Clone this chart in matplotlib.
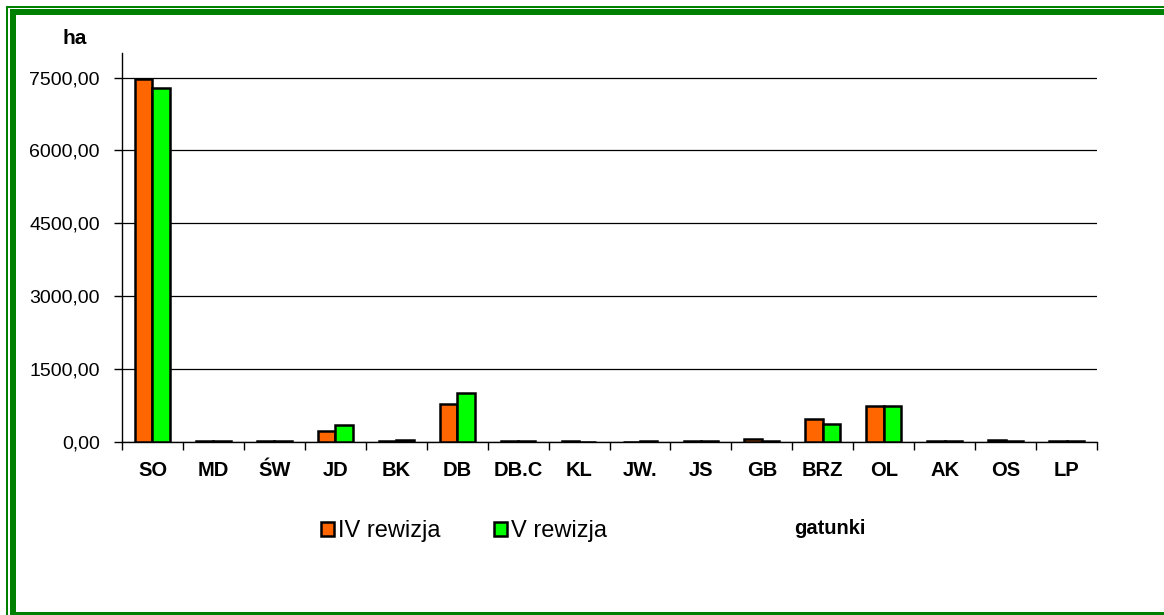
import matplotlib.pyplot as plt
import numpy as np
from matplotlib.patches import Rectangle

plt.rcParams['font.family'] = ['Liberation Sans', 'DejaVu Sans']

gatunki = ['SO', 'MD', 'ŚW', 'JD', 'BK', 'DB', 'DB.C', 'KL',
           'JW.', 'JS', 'GB', 'BRZ', 'OL', 'AK', 'OS', 'LP']
rewizja_iv = [7480, 15, 15, 218, 5, 770, 10, 12, 0, 10, 50, 474, 740, 10, 30, 10]
rewizja_v = [7290, 20, 15, 336, 25, 1010, 10, 0, 10, 10, 10, 363, 733, 10, 15, 10]
y_ticks = [0, 1500, 3000, 4500, 6000, 7500]

ORANGE = '#FF6600'
GREEN = '#00FF00'
BORDER = '#008000'

fig = plt.figure(figsize=(11.64, 6.15), dpi=100)
W, H = 1164, 615

# green frame (thin + thick line, bottom line)
def px_rect(x0, y0, x1, y1):
    fig.patches.append(Rectangle((x0 / W, 1 - y1 / H), (x1 - x0) / W, (y1 - y0) / H,
                                 transform=fig.transFigure, color=BORDER, lw=0))

px_rect(6, 6, 8, 615)       # left thin
px_rect(6, 6, 1164, 8)      # top thin
px_rect(10, 9, 16, 613)     # left thick
px_rect(10, 9, 1164, 15)    # top thick
px_rect(10, 612, 1164, 615)  # bottom

ax = fig.add_axes([122 / W, 1 - 441.7 / H, (1097 - 122) / W, (441.7 - 53.4) / H])

x = np.arange(len(gatunki))
w = 0.285
ax.bar(x - w / 2, rewizja_iv, w, color=ORANGE, edgecolor='black', linewidth=1.8,
       label='IV rewizja', zorder=3)
ax.bar(x + w / 2, rewizja_v, w, color=GREEN, edgecolor='black', linewidth=1.8,
       label='V rewizja', zorder=3)

ax.set_xlim(-0.5, len(gatunki) - 0.5)
ax.set_ylim(0, 8000)
ax.set_yticks(y_ticks)
ax.set_yticklabels([f'{v:.2f}'.replace('.', ',') for v in y_ticks])
ax.yaxis.grid(True, color='black', linewidth=0.9, zorder=0)

ax.set_xticks(np.arange(len(gatunki) + 1) - 0.5)
ax.set_xticklabels([])
ax.set_xticks(x, minor=True)
ax.set_xticklabels(gatunki, minor=True, fontweight='bold')
ax.tick_params(axis='x', which='major', direction='out', length=6, width=1.0)
ax.tick_params(axis='x', which='minor', length=0, pad=14, labelsize=14.5)
ax.tick_params(axis='y', direction='out', length=6, width=1.0, pad=10, labelsize=14)

for s in ['top', 'right']:
    ax.spines[s].set_visible(False)
ax.spines['left'].set_linewidth(1.0)
ax.spines['bottom'].set_linewidth(1.0)

fig.text(75 / W, 1 - 39 / H, 'ha', fontsize=15, fontweight='bold', ha='center', va='center')
fig.text(830 / W, 1 - 529 / H, 'gatunki', fontsize=14.5, fontweight='bold', ha='center', va='center')

fig.legend(loc='center left', bbox_to_anchor=(321 / W, 1 - 531 / H), ncol=2, frameon=False,
           fontsize=17, handlelength=0.55, handleheight=0.55, handletextpad=0.15,
           columnspacing=2.3, borderpad=0, borderaxespad=0)

fig.savefig('out.png', dpi=100)
